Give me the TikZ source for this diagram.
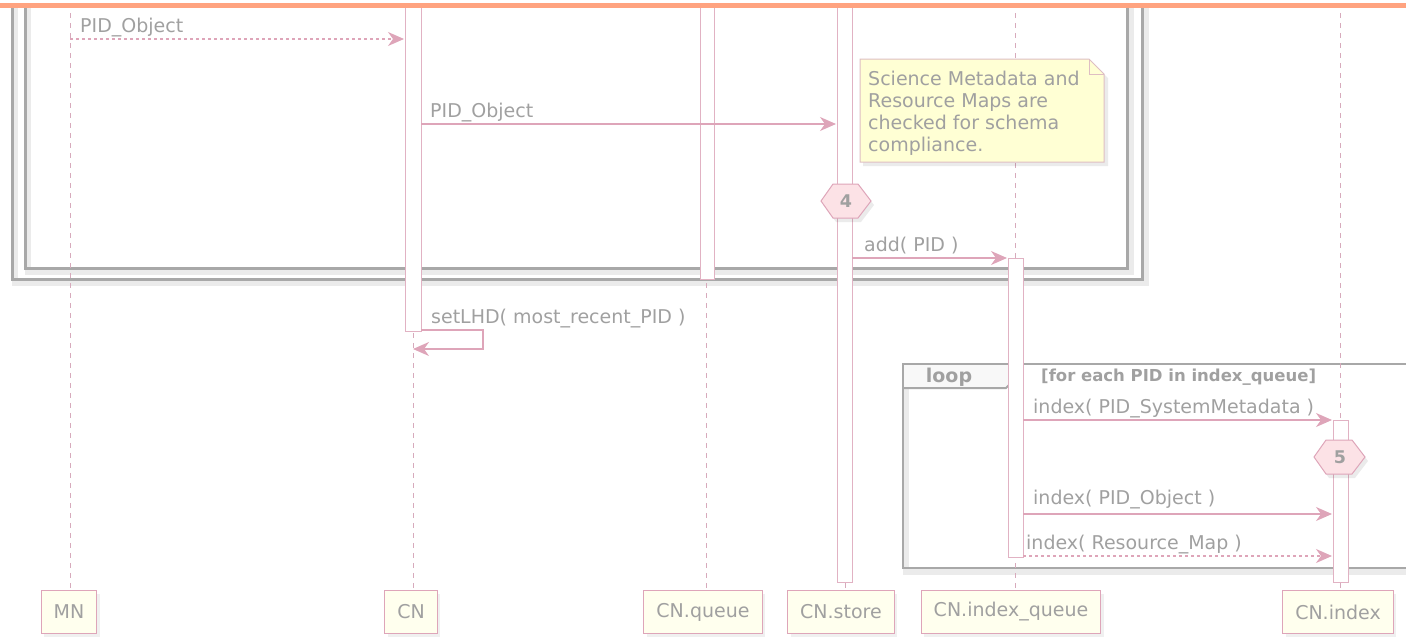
\documentclass[tikz,border=0pt]{standalone}
\usepackage{fontspec}
\setmainfont{DejaVu Sans}
\usetikzlibrary{arrows.meta,shadows}
\definecolor{txtc}{RGB}{160,160,160}
\definecolor{linec}{RGB}{222,165,185}
\definecolor{actc}{RGB}{225,178,195}
\definecolor{lifec}{RGB}{215,170,188}
\definecolor{framec}{RGB}{168,168,168}
\definecolor{notefill}{RGB}{255,255,212}
\definecolor{noteline}{RGB}{222,190,195}
\definecolor{partfill}{RGB}{255,255,238}
\definecolor{hexfill}{RGB}{252,226,230}
\definecolor{tabfill}{RGB}{248,248,248}
\definecolor{orangec}{RGB}{255,163,128}
\begin{document}
\begin{tikzpicture}[x=1pt,y=-1pt,
  every node/.style={font=\fontsize{19}{22.5}\selectfont, text=txtc, inner sep=0pt},
  lbl/.style={anchor=base west},
  msg/.style={draw=linec, line width=1.2pt, -{Stealth[length=16pt,width=14pt,inset=5pt,fill=linec]}},
  msgd/.style={msg, dash pattern=on 3pt off 3pt},
  life/.style={draw=lifec, line width=1pt, dash pattern=on 5pt off 5pt},
  actbox/.style={draw=actc, fill=white, line width=0.9pt},
  part/.style={draw=linec, fill=partfill, line width=1pt, minimum height=43pt, inner xsep=12.5pt,
    drop shadow={shadow xshift=3pt, shadow yshift=-3pt, opacity=0.12}},
  frameline/.style={draw=framec, line width=3pt},
  frameshadow/.style={draw=black, opacity=0.08, line width=6pt},
  hexbox/.style={draw=linec, fill=hexfill, line width=1pt},
  hexlbl/.style={font=\fontsize{17.5}{19}\selectfont\bfseries},
  condlbl/.style={font=\fontsize{16.5}{19}\selectfont\bfseries, anchor=west},
]
\useasboundingbox (0,0) rectangle (1406,637);

% ---------- participants ----------
\node[part] (pMN) at (69,612) {MN};
\node[part] (pCN) at (411,612) {CN};
\node[part] (pQ) at (703,612) {CN.queue};
\node[part] (pS) at (841,612) {CN.store};
\node[part] (pIQ) at (1011,612) {CN.index\_queue};
\node[part] (pI) at (1338,612) {CN.index};

% ---------- group frames ----------
\draw[frameshadow] (15,-10) -- (15,283) -- (1146,283) -- (1146,-10);
\draw[frameshadow] (28,-10) -- (28,272) -- (1131,272) -- (1131,-10);
\draw[frameline] (12,-10) -- (12,279) -- (1142,279) -- (1142,-10);
\draw[frameline] (25,-10) -- (25,268) -- (1127,268) -- (1127,-10);

% ---------- loop frame ----------
\draw[frameshadow] (906,368) -- (906,572) -- (1420,572);
\fill[tabfill] (903,364) -- (1018,364) -- (1018,376) -- (1006,388) -- (903,388) -- cycle;
\draw[draw=framec, line width=2.5pt] (1420,364) -- (903,364) -- (903,568) -- (1420,568);
\draw[draw=framec, line width=2pt] (1018,364) -- (1018,376) -- (1006,388) -- (903,388);
\node[font=\fontsize{19}{22}\selectfont\bfseries] (looplbl) at (949,377) {loop};
\node[condlbl] (cond) at (1041,377) {[for each PID in index\_queue]};

% ---------- lifelines ----------
\coordinate (lMN) at (70,13);
\coordinate (lCN) at (413,13);
\coordinate (lQ) at (706,13);
\coordinate (lS) at (845,13);
\coordinate (lIQ) at (1015,13);
\coordinate (lI) at (1340,13);
\draw[life] (lMN) -- (lMN |- pMN.north);
\draw[life] (lCN) -- (lCN |- pCN.north);
\draw[life] (lQ) -- (lQ |- pQ.north);
\draw[life] (lS) -- (lS |- pS.north);
\draw[life] (lIQ) -- (lIQ |- pIQ.north);
\draw[life] (lI) -- (lI |- pI.north);

% ---------- activations ----------
\draw[actbox] (405,-5) rectangle (421,331);
\draw[actbox] (700,-5) rectangle (714,279);
\draw[actbox] (837,-5) rectangle (852,582);
\draw[actbox] (1008,258) rectangle (1023,557);
\draw[actbox] (1333,420) rectangle (1348,582);

% ---------- messages ----------
\coordinate (m1s) at (70,39);  \coordinate (m1e) at (404,39);
\draw[msgd] (m1s) -- (m1e);
\node[lbl] (t1) at (80,32) {PID\_Object};

\coordinate (m2s) at (421,124); \coordinate (m2e) at (836,124);
\draw[msg] (m2s) -- (m2e);
\node[lbl] (t2) at (430,117) {PID\_Object};

\coordinate (m3s) at (852,258); \coordinate (m3e) at (1007,258);
\draw[msg] (m3s) -- (m3e);
\node[lbl] (t3) at (864,251) {add( PID )};

\coordinate (m4s) at (421,330); \coordinate (m4e) at (413,349);
\draw[msg] (m4s) -- ++(62,0) |- (m4e);
\node[lbl] (t4) at (431,323) {setLHD( most\_recent\_PID )};

\coordinate (m5s) at (1023,420); \coordinate (m5e) at (1332,420);
\draw[msg] (m5s) -- (m5e);
\node[lbl] (t5) at (1033,413) {index( PID\_SystemMetadata )};

\coordinate (m6s) at (1023,514); \coordinate (m6e) at (1332,514);
\draw[msg] (m6s) -- (m6e);
\node[lbl] (t6) at (1033,504) {index( PID\_Object )};

\coordinate (m7s) at (1023,556); \coordinate (m7e) at (1332,556);
\draw[msgd] (m7s) -- (m7e);
\node[lbl] (t7) at (1026,549) {index( Resource\_Map )};

% ---------- note ----------
\fill[black, opacity=0.08] (863,63) -- (1092,63) -- (1108,78) -- (1108,166) -- (863,166) -- cycle;
\draw[draw=noteline, fill=notefill, line width=1pt] (860,59) -- (1089,59) -- (1104,74) -- (1104,162) -- (860,162) -- cycle;
\draw[draw=noteline, line width=1pt] (1089,59) -- (1089,74) -- (1104,74);
\node[lbl] (n1) at (868,85) {Science Metadata and};
\node[lbl] (n2) at (868,107.5) {Resource Maps are};
\node[lbl] (n3) at (868,129.5) {checked for schema};
\node[lbl] (n4) at (868,151.5) {compliance.};

% ---------- hexagons ----------
\fill[black, opacity=0.08] (824,205) -- (836,188) -- (861,188) -- (874,205) -- (861,222) -- (836,222) -- cycle;
\draw[hexbox] (821,201) -- (833,184) -- (858,184) -- (871,201) -- (858,218) -- (833,218) -- cycle;
\node[hexlbl] (h4) at (846,201) {4};
\fill[black, opacity=0.08] (1317,461) -- (1329,444) -- (1355,444) -- (1368,461) -- (1355,478) -- (1329,478) -- cycle;
\draw[hexbox] (1314,457) -- (1326,440) -- (1352,440) -- (1365,457) -- (1352,474) -- (1326,474) -- cycle;
\node[hexlbl] (h5) at (1340,457) {5};

% ---------- top band ----------
\fill[white] (-5,-20) rectangle (1411,3);
\fill[orangec] (-5,3) rectangle (1411,8);
\end{tikzpicture}
\end{document}
